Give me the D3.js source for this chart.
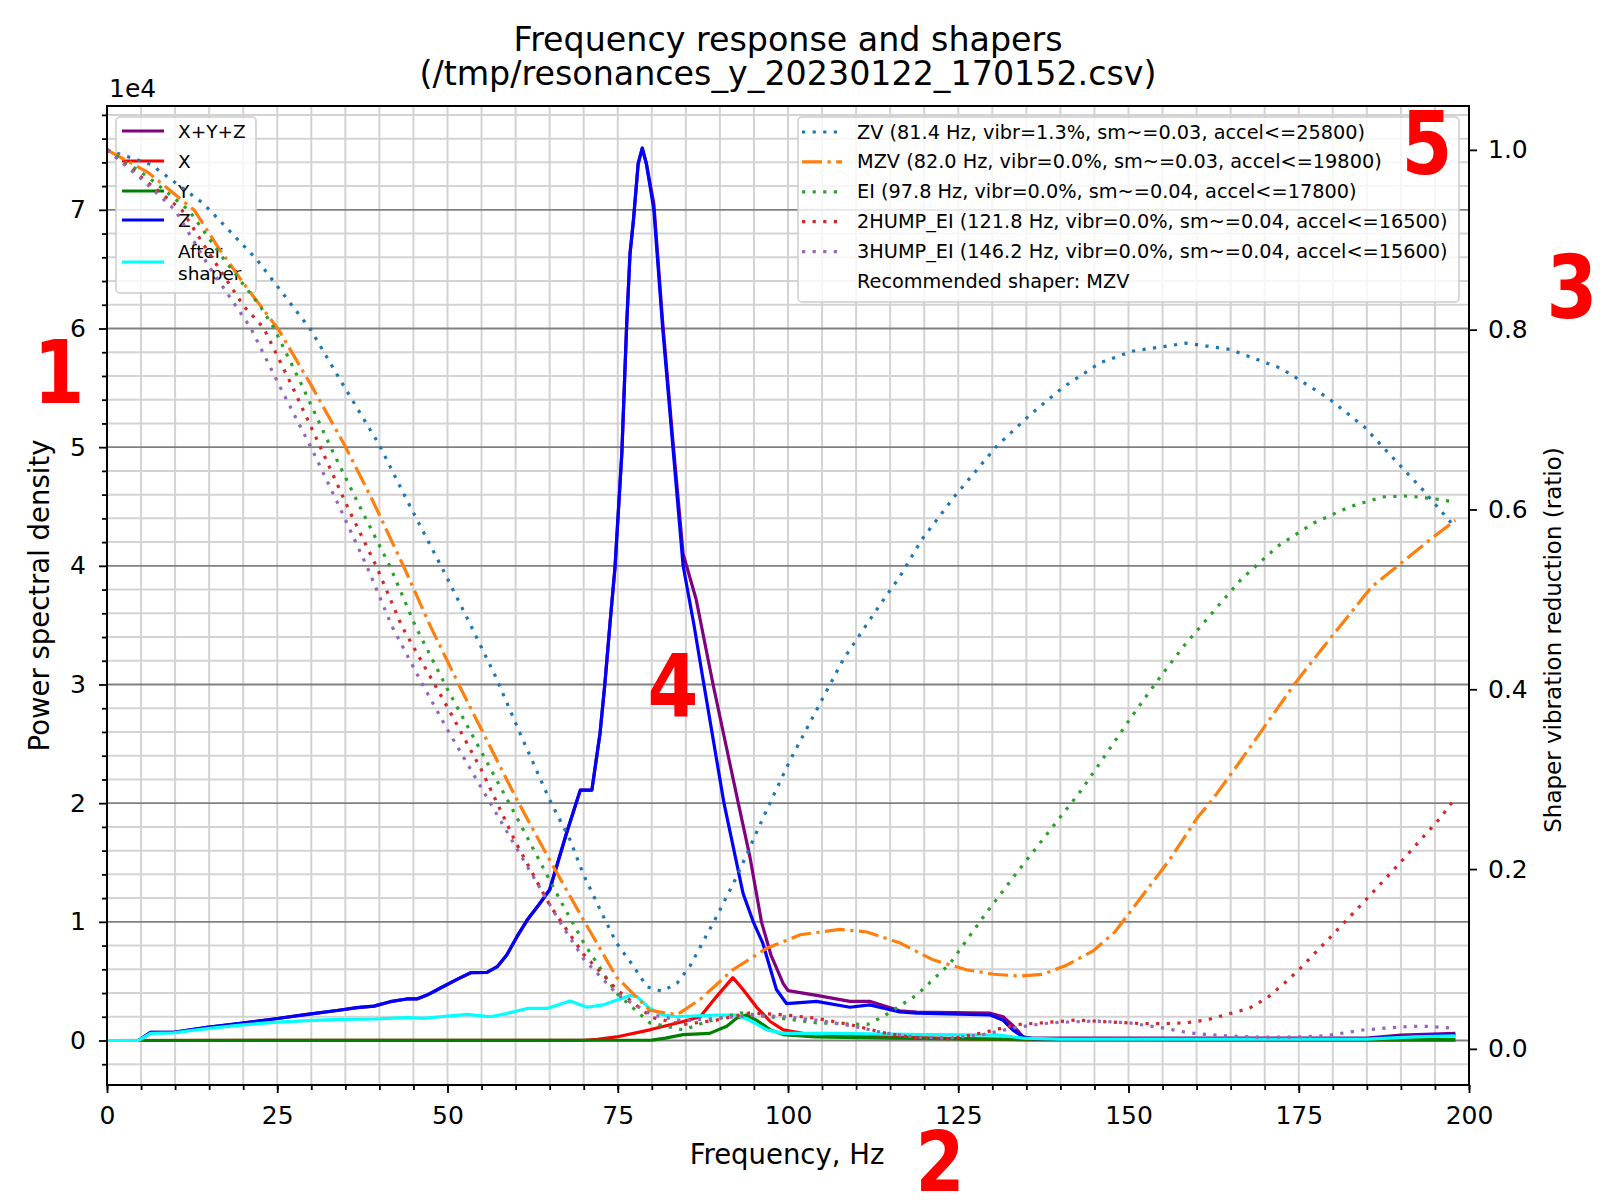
<!DOCTYPE html>
<html><head><meta charset="utf-8">
<script src="https://cdn.jsdelivr.net/npm/d3@7"></script>
<style>
body{margin:0;background:#fff}
svg text{font-family:"DejaVu Sans",sans-serif;fill:#000}
</style>
</head><body>
<svg id="c" width="1600" height="1200"></svg>
<script>
// ---------------- DATA (PSD in units of 1e4, frequency in Hz) ----------------
const xTicks = [0,25,50,75,100,125,150,175,200];
const yLeftTicks = [0,1,2,3,4,5,6,7];
const yRightTicks = [0.0,0.2,0.4,0.6,0.8,1.0];

const psdXYZ = [[0,0],[4.6,0],[6.4,0.069],[9.8,0.069],[14.7,0.111],[19.6,0.145],[24.5,0.181],[29.4,0.22],[34.3,0.257],[36.7,0.277],[39.2,0.29],[41.6,0.327],[44,0.35],[45.5,0.35],[47,0.383],[48.9,0.44],[51.4,0.515],[53.4,0.571],[55.8,0.574],[57.3,0.622],[58.7,0.72],[60.2,0.875],[61.7,1.015],[63.5,1.15],[65,1.27],[67.5,1.75],[69.5,2.11],[71.2,2.11],[72.4,2.59],[73.1,3.0],[73.9,3.54],[74.6,3.99],[75.6,4.95],[76.3,6.02],[76.8,6.63],[77.3,6.91],[78.0,7.39],[78.6,7.52],[79.2,7.39],[80.3,7.05],[81.6,6.05],[83.1,5.05],[84.6,4.1],[86.5,3.72],[89.0,3.0],[92.7,2.0],[94.4,1.55],[96.1,1.0],[97.5,0.72],[99.3,0.48],[100,0.42],[104.2,0.38],[109.1,0.33],[112,0.33],[116.4,0.25],[118.9,0.24],[129.7,0.23],[131.6,0.2],[133.2,0.116],[134.6,0.027],[136,0.02],[185,0.02],[190,0.045],[198,0.06]];
const psdX = [[0,0],[70,0.002],[72,0.01],[74.8,0.03],[79.7,0.09],[84.6,0.16],[87.1,0.2],[89.5,0.37],[91.9,0.53],[93.4,0.43],[95.4,0.28],[97.4,0.16],[99.3,0.09],[102.2,0.06],[106.6,0.05],[115,0.03],[125,0.015],[135,0.005],[198,0.003]];
const psdY = [[0,0],[80,0.003],[82,0.02],[84.6,0.05],[88.5,0.06],[91,0.12],[92.5,0.19],[93.9,0.215],[95.4,0.17],[97.4,0.09],[99.3,0.05],[104,0.03],[115,0.02],[130,0.012],[198,0.01]];
const psdZ = [[0,0],[4.6,0],[6.4,0.069],[9.8,0.069],[14.7,0.111],[19.6,0.145],[24.5,0.181],[29.4,0.22],[34.3,0.257],[36.7,0.277],[39.2,0.29],[41.6,0.327],[44,0.35],[45.5,0.35],[47,0.383],[48.9,0.44],[51.4,0.515],[53.4,0.571],[55.8,0.574],[57.3,0.622],[58.7,0.72],[60.2,0.875],[61.7,1.015],[63.5,1.15],[65,1.27],[67.5,1.75],[69.5,2.11],[71.2,2.11],[72.4,2.59],[73.1,3.0],[73.9,3.54],[74.6,3.99],[75.6,4.95],[76.3,6.02],[76.8,6.63],[77.3,6.91],[78.0,7.39],[78.6,7.52],[79.2,7.39],[80.3,7.0],[81.6,6.0],[83.1,5.0],[84.6,4.0],[86.2,3.5],[87.5,3.05],[90.6,2.0],[93.4,1.24],[94.9,1.0],[96.3,0.82],[98.3,0.43],[99.8,0.31],[104.2,0.33],[109.1,0.28],[112,0.30],[116.4,0.24],[118.9,0.23],[129.7,0.215],[131.6,0.17],[133,0.09],[134.5,0.03],[136,0.015],[185,0.015],[190,0.03],[198,0.05]];
const psdAfter = [[0,0],[4.6,0],[6.4,0.06],[9.8,0.065],[14.7,0.1],[19.6,0.13],[24.5,0.153],[29.4,0.167],[34.3,0.178],[39.2,0.181],[44,0.192],[46.5,0.186],[48.9,0.2],[52.9,0.22],[56.3,0.2],[58.7,0.228],[61.7,0.27],[64.6,0.27],[68,0.333],[70.5,0.28],[72.8,0.30],[76.8,0.38],[77.8,0.37],[79.7,0.27],[81.7,0.215],[83.7,0.2],[89.5,0.215],[92.5,0.215],[94.4,0.17],[96.9,0.09],[99.3,0.06],[106.6,0.06],[120,0.05],[131,0.045],[134.5,0.02],[140,0.012],[185,0.012],[192,0.03],[198,0.04]];

const shaperZV = [[0,1.0],[6.4,0.984],[14.2,0.94],[22,0.878],[29.9,0.80],[34.8,0.737],[39.9,0.673],[44,0.611],[49.4,0.532],[53.1,0.476],[57,0.415],[61,0.345],[65,0.277],[68,0.2325],[69.9,0.195],[72.4,0.155],[74.8,0.118],[77.3,0.092],[79.3,0.069],[81.5,0.064],[83.7,0.073],[85.6,0.092],[89.5,0.147],[92.5,0.192],[96.4,0.258],[100.3,0.321],[104.2,0.377],[108.1,0.433],[113.5,0.494],[116.4,0.525],[119.6,0.566],[124.4,0.614],[130.6,0.67],[135.5,0.705],[140.4,0.736],[145.8,0.763],[150.5,0.776],[158.5,0.785],[164.9,0.778],[172.4,0.757],[179.3,0.724],[184.6,0.692],[190,0.648],[193.2,0.622],[197.4,0.585]];
const shaperMZV = [[0,1.0],[6,0.975],[12.8,0.933],[16.2,0.893],[20,0.852],[25.2,0.80],[30,0.738],[35,0.67],[39,0.61],[43.6,0.536],[47.5,0.47],[52,0.40],[56,0.34],[60,0.28],[65,0.21],[70,0.143],[74.8,0.08],[79.7,0.043],[83.7,0.038],[87.1,0.055],[91.9,0.088],[96.9,0.112],[101.8,0.127],[107.6,0.133],[111.6,0.13],[116.4,0.118],[121.3,0.099],[126.2,0.088],[130.2,0.083],[134,0.081],[137.4,0.083],[140.9,0.093],[144.8,0.109],[148,0.13],[152,0.17],[156,0.21],[160.1,0.257],[162.3,0.277],[166.5,0.321],[170.3,0.362],[174.5,0.407],[178.3,0.444],[182,0.479],[185.7,0.514],[190,0.54],[194.2,0.566],[198,0.588]];
const shaperEI = [[0,1.0],[6,0.97],[12,0.933],[17,0.88],[22.5,0.826],[24.5,0.802],[28.5,0.74],[32.8,0.67],[37,0.605],[41.6,0.536],[45.3,0.47],[50,0.40],[55,0.33],[60,0.26],[66.5,0.166],[70,0.118],[74.8,0.062],[79.7,0.029],[84.6,0.021],[88,0.03],[93,0.04],[98,0.035],[104.2,0.029],[111.6,0.027],[114,0.036],[118.9,0.06],[123.8,0.095],[128.7,0.147],[133.6,0.196],[139.9,0.257],[143.1,0.288],[146.8,0.329],[150.5,0.37],[154.3,0.41],[158,0.447],[162.3,0.485],[166.5,0.522],[171.9,0.559],[177.2,0.585],[182.5,0.603],[187.3,0.614],[191,0.615],[194.8,0.612],[197.4,0.609]];
const shaper2HUMP = [[0,1.0],[5,0.97],[11,0.933],[15,0.885],[20.1,0.826],[23,0.802],[27,0.74],[31.3,0.67],[35.5,0.60],[39.6,0.536],[43.3,0.47],[50,0.38],[55,0.31],[60,0.23],[65,0.16],[70,0.105],[75,0.065],[80,0.035],[84.6,0.027],[89.5,0.032],[94.4,0.04],[99.3,0.038],[104.2,0.034],[109.1,0.027],[114,0.018],[118.9,0.012],[123.8,0.011],[128.7,0.018],[133.6,0.027],[137.4,0.029],[142.3,0.032],[147.2,0.030],[152.1,0.028],[155,0.028],[158.4,0.029],[161.4,0.032],[164.3,0.038],[167.7,0.045],[170.4,0.057],[172.9,0.073],[175.3,0.09],[177.3,0.106],[180,0.127],[185,0.167],[190,0.208],[195.8,0.257],[198,0.279]];
const shaper3HUMP = [[0,1.0],[5,0.968],[10,0.933],[15,0.87],[21.1,0.802],[25.5,0.735],[29.9,0.67],[34,0.605],[38.2,0.536],[41.85,0.47],[46,0.41],[50,0.355],[55,0.29],[60,0.225],[66.6,0.14],[70,0.10],[75,0.06],[80,0.038],[84.6,0.031],[89.5,0.034],[94.4,0.037],[99.3,0.036],[104.2,0.032],[109.1,0.026],[114,0.018],[118.9,0.013],[123.8,0.012],[128.7,0.016],[133.6,0.024],[138.5,0.029],[145,0.031],[150,0.029],[155.3,0.023],[158.7,0.018],[161.6,0.016],[164.3,0.0145],[169.2,0.013],[174.1,0.013],[179,0.0145],[181.4,0.0175],[184.4,0.021],[187.8,0.023],[191.3,0.025],[194.2,0.025],[197.6,0.023]];

const psdLabels = ["X+Y+Z","X","Y","Z","After shaper"];
const shaperNames = ["ZV","MZV","EI","2HUMP_EI","3HUMP_EI"];
const shaperFreqs = [81.4,82.0,97.8,121.8,146.2];
const shaperVibr = [1.3,0.0,0.0,0.0,0.0];
const shaperSmooth = [0.03,0.03,0.04,0.04,0.04];
const shaperAccel = [25800,19800,17800,16500,15600];
const recommended = "MZV";
const titleLines = ["Frequency response and shapers","(/tmp/resonances_y_20230122_170152.csv)"];
const annotations = ["1","2","3","4","5"];

// ---------------- LAYOUT ----------------
const L=107,R=1469,T=106,B=1085;
const svg=d3.select("#c");
const x=d3.scaleLinear().domain([0,200]).range([L,R]);
const yL=d3.scaleLinear().domain([-0.375,7.875]).range([B,T]);
const yR=d3.scaleLinear().domain([-0.0402,1.0488]).range([B,T]);

svg.append("rect").attr("width",1600).attr("height",1200).attr("fill","#fff");
svg.append("defs").append("clipPath").attr("id","clip").append("rect")
  .attr("x",L).attr("y",T).attr("width",R-L).attr("height",B-T);

// grid
const grid=svg.append("g");
const xMinor=d3.range(0,41).map(i=>i*5);
const yMinor=d3.range(-1,40).filter(i=>i%5!==0).map(i=>i*0.2);
grid.selectAll(".gy").data(yMinor).join("line")
  .attr("x1",L).attr("x2",R).attr("y1",d=>yL(d)).attr("y2",d=>yL(d))
  .attr("stroke","#d3d3d3").attr("stroke-width",2);
grid.selectAll(".gx").data(xMinor).join("line")
  .attr("x1",d=>x(d)).attr("x2",d=>x(d)).attr("y1",T).attr("y2",B)
  .attr("stroke","#d3d3d3").attr("stroke-width",2);
grid.selectAll(".gY").data(yLeftTicks).join("line")
  .attr("x1",L).attr("x2",R).attr("y1",d=>yL(d)).attr("y2",d=>yL(d))
  .attr("stroke","#808080").attr("stroke-width",1.8);

// PSD lines
const lineL=d3.line().x(d=>x(d[0])).y(d=>yL(d[1]));
const lineR=d3.line().x(d=>x(d[0])).y(d=>yR(d[1]));
const psdSeries=[psdXYZ,psdX,psdY,psdZ,psdAfter];
const psdColors=["#800080","#ff0000","#008000","#0000ff","#00ffff"];
const gP=svg.append("g").attr("clip-path","url(#clip)");
psdSeries.forEach((s,i)=>{
  gP.append("path").attr("d",lineL(s)).attr("fill","none")
    .attr("stroke",psdColors[i]).attr("stroke-width",3.2)
    .attr("stroke-linejoin","round");
});

// left legend
const lg=svg.append("g");
lg.append("rect").attr("x",116).attr("y",117).attr("width",140).attr("height",176).attr("rx",4)
  .attr("fill","#fff").attr("fill-opacity",0.8).attr("stroke","#cccccc").attr("stroke-width",1.5);
const lRows=[131,161,191,220,262];
psdLabels.forEach((lab,i)=>{
  lg.append("line").attr("x1",122).attr("x2",164).attr("y1",lRows[i]).attr("y2",lRows[i])
    .attr("stroke",psdColors[i]).attr("stroke-width",3.2);
  const words=lab.split(" ");
  if(words.length===1){
    lg.append("text").attr("x",178).attr("y",lRows[i]).attr("dominant-baseline","central")
      .attr("font-size",18.5).text(lab);
  } else {
    words.forEach((w,j)=>lg.append("text").attr("x",178).attr("y",lRows[i]-11+j*22)
      .attr("dominant-baseline","central").attr("font-size",18.5).text(w));
  }
});

// shaper lines (twin axis)
const shaperSeries=[shaperZV,shaperMZV,shaperEI,shaper2HUMP,shaper3HUMP];
const shaperColors=["#1f77b4","#ff7f0e","#2ca02c","#d62728","#9467bd"];
const dotted="3.2,7.4", dashdot="20,5.5,3.2,5.5";
const gS=svg.append("g").attr("clip-path","url(#clip)");
shaperSeries.forEach((s,i)=>{
  gS.append("path").attr("d",lineR(s)).attr("fill","none")
    .attr("stroke",shaperColors[i]).attr("stroke-width",3.2)
    .attr("stroke-dasharray",shaperNames[i]===recommended?dashdot:dotted);
});

// right legend
const rg=svg.append("g");
rg.append("rect").attr("x",798).attr("y",117).attr("width",661).attr("height",185).attr("rx",4)
  .attr("fill","#fff").attr("fill-opacity",0.8).attr("stroke","#cccccc").attr("stroke-width",1.5);
shaperNames.forEach((n,i)=>{
  const yy=132+i*29.9;
  rg.append("line").attr("x1",802).attr("x2",842).attr("y1",yy).attr("y2",yy)
    .attr("stroke",shaperColors[i]).attr("stroke-width",3.2)
    .attr("stroke-dasharray",n===recommended?dashdot:dotted);
  rg.append("text").attr("x",857).attr("y",yy).attr("dominant-baseline","central").attr("font-size",19.3)
    .text(`${n} (${shaperFreqs[i].toFixed(1)} Hz, vibr=${shaperVibr[i].toFixed(1)}%, sm~=${shaperSmooth[i].toFixed(2)}, accel<=${shaperAccel[i]})`);
});
rg.append("text").attr("x",857).attr("y",132+5*29.9).attr("dominant-baseline","central").attr("font-size",19.3)
  .text("Recommended shaper: "+recommended);

// frame
svg.append("rect").attr("x",L).attr("y",T).attr("width",R-L).attr("height",B-T)
  .attr("fill","none").attr("stroke","#000").attr("stroke-width",2);

// axes
function style(g){g.select(".domain").remove();g.selectAll("line").attr("stroke","#000").attr("stroke-width",1.8);
  g.selectAll("text").attr("font-size",25).attr("font-family","DejaVu Sans");}
svg.append("g").attr("transform",`translate(0,${B})`)
  .call(d3.axisBottom(x).tickValues(xMinor).tickSize(5).tickFormat("")).call(style);
svg.append("g").attr("transform",`translate(0,${B})`)
  .call(d3.axisBottom(x).tickValues(xTicks).tickSize(8).tickPadding(13).tickFormat(d3.format("d"))).call(style);
svg.append("g").attr("transform",`translate(${L},0)`)
  .call(d3.axisLeft(yL).tickValues(yMinor).tickSize(5).tickFormat("")).call(style);
svg.append("g").attr("transform",`translate(${L},0)`)
  .call(d3.axisLeft(yL).tickValues(yLeftTicks).tickSize(8).tickPadding(13).tickFormat(d3.format("d"))).call(style);
svg.append("g").attr("transform",`translate(${R},0)`)
  .call(d3.axisRight(yR).tickValues(yRightTicks).tickSize(8).tickPadding(11).tickFormat(d3.format(".1f"))).call(style);

// texts
svg.append("text").attr("x",109).attr("y",97).attr("font-size",25).text("1e4");
titleLines.forEach((t,i)=>svg.append("text").attr("x",788).attr("y",51+i*34)
  .attr("text-anchor","middle").attr("font-size",33.3).text(t));
svg.append("text").attr("x",787).attr("y",1164).attr("text-anchor","middle").attr("font-size",27.5).text("Frequency, Hz");
svg.append("text").attr("transform","translate(49,595.5) rotate(-90)").attr("text-anchor","middle")
  .attr("font-size",27.5).text("Power spectral density");
svg.append("text").attr("transform","translate(1561,640) rotate(-90)").attr("text-anchor","middle")
  .attr("font-size",23).text("Shaper vibration reduction (ratio)");

// red annotation numbers
const annPos=[[59,403,87],[940,1191,84],[1572,318,87],[673,717,87],[1427,174,87]];
annotations.forEach((a,i)=>svg.append("text")
  .attr("transform",`translate(${annPos[i][0]},${annPos[i][1]}) scale(0.84,1)`)
  .attr("text-anchor","middle").attr("font-family","Liberation Sans, Arial, sans-serif")
  .attr("font-weight","bold").attr("font-size",annPos[i][2]).style("fill","#ff0000").text(a));
</script>
</body></html>
